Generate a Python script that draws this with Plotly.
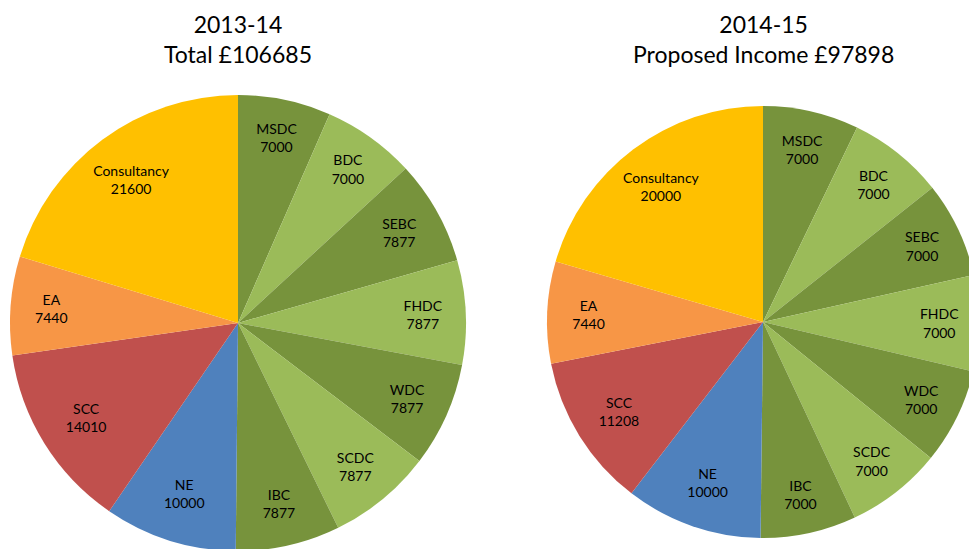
import plotly.graph_objects as go

labels = ["MSDC", "BDC", "SEBC", "FHDC", "WDC", "SCDC", "IBC", "NE", "SCC", "EA", "Consultancy"]
values_1314 = [7000, 7000, 7877, 7877, 7877, 7877, 7877, 10000, 14010, 7440, 21600]
values_1415 = [7000, 7000, 7000, 7000, 7000, 7000, 7000, 10000, 11208, 7440, 20000]
title_1314 = "2013-14<br>Total £106685"
title_1415 = "2014-15<br>Proposed Income £97898"

DG = "#77933C"
LG = "#9BBB59"
colors = [DG, LG, DG, LG, DG, LG, DG, "#4F81BD", "#C0504D", "#F79646", "#FFC000"]

W, H = 980, 552

def dom(x0, x1, top, bottom):
    return dict(x=[x0 / W, x1 / W], y=[(H - bottom) / H, (H - top) / H])

font_family = "Lato, 'Open Sans', sans-serif"

fig = go.Figure()
for vals, d in [(values_1314, dom(10, 466, 95, 551)), (values_1415, dom(547, 979, 106, 538))]:
    # coloured slices
    fig.add_trace(go.Pie(
        labels=labels, values=vals, sort=False, direction="clockwise", rotation=0,
        marker=dict(colors=colors, line=dict(width=0)),
        textinfo="none", hoverinfo="label+value", showlegend=False, domain=d,
    ))
    # label ring (transparent) so labels sit near the outer edge
    fig.add_trace(go.Pie(
        labels=labels, values=vals, sort=False, direction="clockwise", rotation=0,
        hole=0.57,
        marker=dict(colors=["rgba(0,0,0,0)"] * len(vals), line=dict(width=0)),
        texttemplate="%{label}<br>%{value:.0f}", textposition="inside",
        insidetextorientation="horizontal",
        textfont=dict(family=font_family, size=14, color="#000000"),
        hoverinfo="skip", showlegend=False, domain=d,
    ))

fig.add_annotation(text=title_1314, x=238 / W, y=1 - 8 / H, xref="paper", yref="paper",
                   xanchor="center", yanchor="top", showarrow=False,
                   font=dict(family=font_family, size=23, color="#000000"))
fig.add_annotation(text=title_1415, x=763 / W, y=1 - 8 / H, xref="paper", yref="paper",
                   xanchor="center", yanchor="top", showarrow=False,
                   font=dict(family=font_family, size=23, color="#000000"))

fig.update_layout(width=W, height=H, margin=dict(l=0, r=0, t=0, b=0),
                  paper_bgcolor="white", plot_bgcolor="white")

fig.write_html("out.html", config={"displayModeBar": False},
               post_script="document.body.style.margin='0';document.body.style.overflow='hidden';document.documentElement.style.overflow='hidden';")
